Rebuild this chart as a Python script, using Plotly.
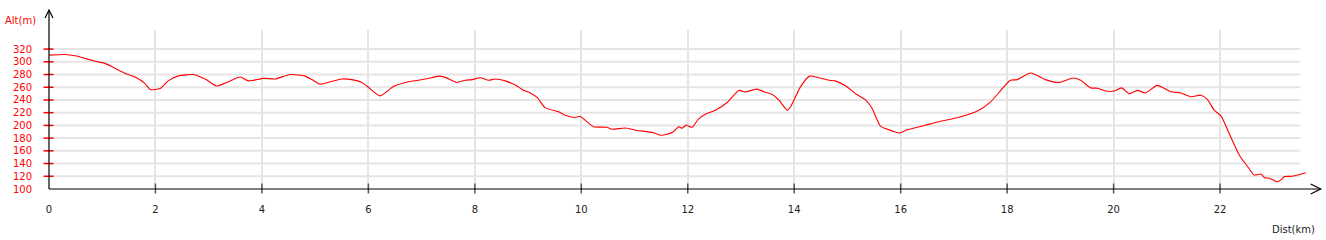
import plotly.graph_objects as go

dist_km = [0.00, 0.30, 0.49, 0.86, 1.05, 1.43, 1.62, 1.80, 1.90, 2.09, 2.24, 2.42, 2.71, 2.95,
           3.15, 3.37, 3.59, 3.75, 4.03, 4.25, 4.53, 4.81, 4.94, 5.09, 5.28, 5.50, 5.69, 5.88,
           6.00, 6.22, 6.47, 6.75, 6.94, 7.19, 7.32, 7.44, 7.66, 7.82, 7.95, 8.10, 8.26, 8.38,
           8.57, 8.76, 8.89, 9.04, 9.17, 9.32, 9.57, 9.70, 9.86, 9.98, 10.11, 10.23, 10.48,
           10.58, 10.83, 11.02, 11.36, 11.49, 11.61, 11.73, 11.83, 11.89, 11.97, 12.08, 12.20,
           12.33, 12.52, 12.74, 12.96, 13.08, 13.30, 13.43, 13.58, 13.71, 13.87, 13.93, 14.12,
           14.29, 14.46, 14.65, 14.77, 14.97, 15.15, 15.34, 15.46, 15.62, 15.75, 15.98, 16.12,
           16.31, 16.47, 16.75, 17.06, 17.44, 17.69, 17.89, 18.06, 18.19, 18.44, 18.72, 18.97,
           19.24, 19.38, 19.57, 19.70, 19.85, 20.01, 20.15, 20.29, 20.45, 20.60, 20.82, 21.07,
           21.26, 21.45, 21.64, 21.76, 21.89, 22.02, 22.17, 22.36, 22.52, 22.64, 22.77, 22.84,
           22.93, 23.06, 23.12, 23.21, 23.35, 23.61]
alt_m = [310.5, 311.5, 309.5, 301, 297.5, 282, 276, 266, 256.5, 258, 270, 277.5, 280, 272,
         262, 268.5, 276, 270, 274, 273, 280, 277.5, 272, 265, 268.5, 273, 272, 267.5,
         260, 246.5, 261, 268.5, 271, 275, 277.5, 275.5, 267.5, 271, 272, 275, 271, 273,
         270, 263.5, 256.5, 251, 244, 228, 221.5, 216, 212.5, 214, 205.5, 198, 197,
         194, 196, 192.5, 188.5, 184.5, 186, 190, 198, 195.5, 200.5, 197, 210,
         217.5, 224, 236, 255, 252.5, 257, 253, 249, 240, 224, 229, 261,
         277.5, 275, 271, 270, 262, 250, 240, 227, 199, 194, 188, 193,
         197, 200.5, 206.5, 212, 222.5, 237, 256, 271, 272, 282.5, 272, 267.5,
         274.5, 271, 259, 258.5, 254, 254, 259, 250, 255, 251, 263, 253,
         251, 245, 247.5, 241, 224, 214.5, 187.5, 153.5, 135, 122, 123.5, 117.5,
         117, 111.5, 113, 119.5, 120, 125.5]

x_ticks = [0, 2, 4, 6, 8, 10, 12, 14, 16, 18, 20, 22]
y_ticks = [100, 120, 140, 160, 180, 200, 220, 240, 260, 280, 300, 320]
y_title = "Alt(m)"
x_title = "Dist(km)"

W, H = 1326, 240
ML, MR, MT, MB = 49, 20, 30, 51
PW, PH = W - ML - MR, H - MT - MB
X_MAX = PW / 53.23
GRID_END = 23.51

def px_x(p):  # pixel offset -> paper fraction (x)
    return p / PW

def px_y(p):  # pixel offset (upwards) -> paper fraction (y)
    return p / PH

fig = go.Figure()
fig.add_trace(go.Scatter(x=dist_km, y=alt_m, mode="lines",
                         line=dict(color="#ff0000", width=1.1, shape="spline", smoothing=0.6),
                         hoverinfo="skip", showlegend=False))

shapes = []
# horizontal grid lines
for v in y_ticks[1:]:
    shapes.append(dict(type="line", xref="x", yref="y", x0=0, x1=GRID_END, y0=v, y1=v,
                       line=dict(color="#e5e5e5", width=2), layer="below"))
# red y tick crosses
for v in y_ticks[1:]:
    shapes.append(dict(type="line", xref="paper", yref="y", x0=px_x(-5.5), x1=px_x(4.5),
                       y0=v, y1=v, line=dict(color="#ff0000", width=1.5), layer="above"))
# x tick crosses
for v in x_ticks[1:]:
    shapes.append(dict(type="line", xref="x", yref="paper", x0=v, x1=v,
                       y0=px_y(-4.5), y1=px_y(5.5), line=dict(color="#555555", width=1.5),
                       layer="above"))
# axes lines with open arrowheads
shapes.append(dict(type="line", xref="paper", yref="paper", x0=0, x1=0, y0=0, y1=px_y(179),
                   line=dict(color="#000000", width=1.2), layer="above"))
shapes.append(dict(type="path", xref="paper", yref="paper",
                   path=f"M{px_x(-4)},{px_y(171)} L0,{px_y(179)} L{px_x(4)},{px_y(171)}",
                   line=dict(color="#000000", width=1.2), layer="above"))
shapes.append(dict(type="line", xref="paper", yref="paper", x0=0, x1=px_x(1271.7), y0=0, y1=0,
                   line=dict(color="#000000", width=1.2), layer="above"))
shapes.append(dict(type="path", xref="paper", yref="paper",
                   path=f"M{px_x(1261.7)},{px_y(5)} L{px_x(1271.7)},0 L{px_x(1261.7)},{px_y(-5)}",
                   line=dict(color="#000000", width=1.2), layer="above"))

fig.update_layout(
    width=W, height=H,
    margin=dict(l=ML, r=MR, t=MT, b=MB, pad=0),
    paper_bgcolor="white", plot_bgcolor="white",
    font=dict(family="DejaVu Sans", size=10),
    shapes=shapes,
    xaxis=dict(range=[0, X_MAX], tickvals=x_ticks, ticktext=[str(v) for v in x_ticks],
               showgrid=True, gridcolor="#e5e5e5", gridwidth=2, zeroline=False,
               showline=False, ticks="", tickfont=dict(color="#222222", size=10),
               ticklabelstandoff=13, fixedrange=True),
    yaxis=dict(range=[100, 350], tickvals=y_ticks, ticktext=[str(v) for v in y_ticks],
               showgrid=False, zeroline=False, showline=False, ticks="",
               tickfont=dict(color="#ff0000", size=10), ticklabelstandoff=16, fixedrange=True),
    annotations=[
        dict(text=y_title, xref="paper", yref="paper", x=px_x(-46), y=px_y(169),
             xanchor="left", yanchor="middle", showarrow=False,
             font=dict(color="#ff0000", size=10, family="DejaVu Sans")),
        dict(text=x_title, xref="paper", yref="paper", x=px_x(1268), y=px_y(-40),
             xanchor="right", yanchor="middle", showarrow=False,
             font=dict(color="#222222", size=10, family="DejaVu Sans")),
    ],
)

fig.write_html("out.html")
